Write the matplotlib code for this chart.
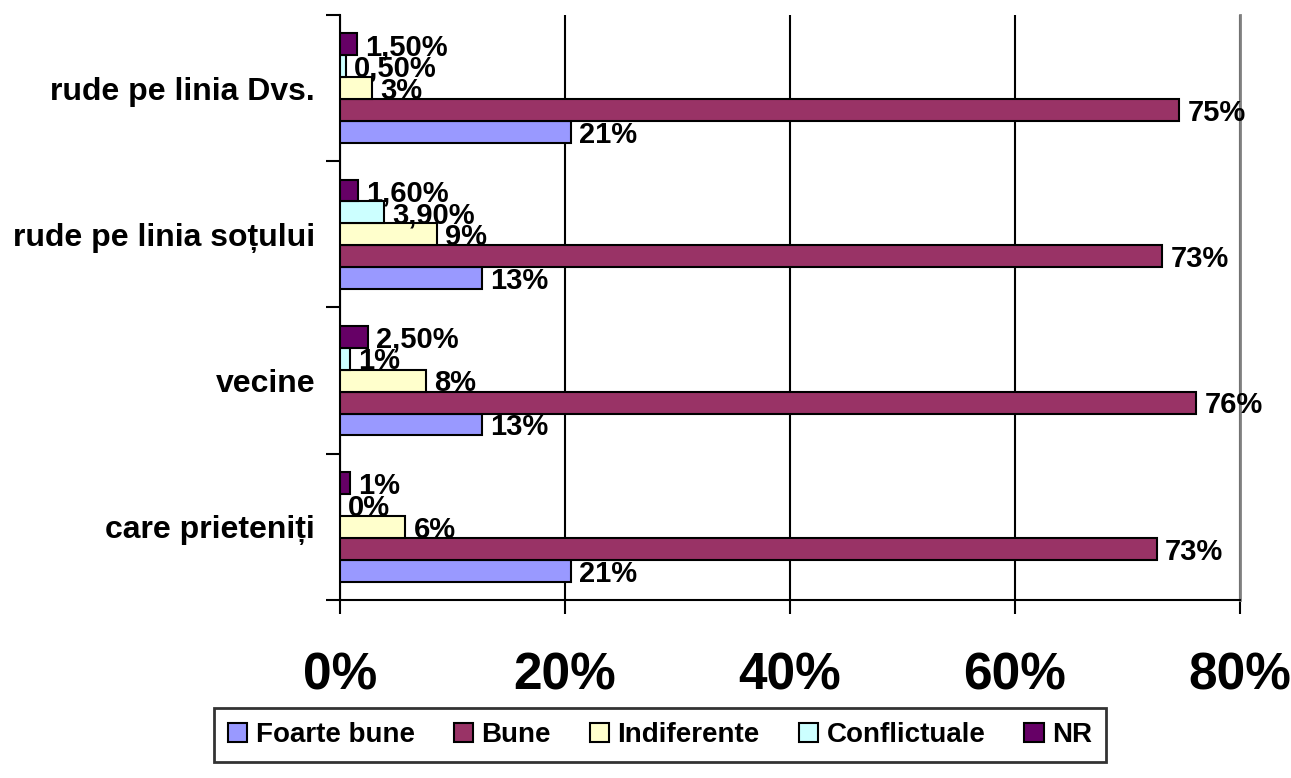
import matplotlib
matplotlib.use("Agg")
import matplotlib.pyplot as plt
import numpy as np

plt.rcParams["font.family"] = ["Liberation Sans", "DejaVu Sans"]
plt.rcParams["font.weight"] = "bold"

categories = ["care prieteniți", "vecine", "rude pe linia soțului", "rude pe linia Dvs."]
series = ["Foarte bune", "Bune", "Indiferente", "Conflictuale", "NR"]
colors = ["#9999FF", "#993366", "#FFFFCC", "#CCFFFF", "#660066"]

# values per series, in category order (bottom to top)
foarte_bune = [20.5, 12.6, 12.6, 20.5]
bune = [72.6, 76.1, 73.1, 74.6]
indiferente = [5.8, 7.6, 8.6, 2.8]
conflictuale = [0.0, 0.9, 3.9, 0.5]
nr = [0.9, 2.5, 1.6, 1.5]

lbl_foarte_bune = ["21%", "13%", "13%", "21%"]
lbl_bune = ["73%", "76%", "73%", "75%"]
lbl_indiferente = ["6%", "8%", "9%", "3%"]
lbl_conflictuale = ["0%", "1%", "3,90%", "0,50%"]
lbl_nr = ["1%", "2,50%", "1,60%", "1,50%"]

values = [foarte_bune, bune, indiferente, conflictuale, nr]
labels = [lbl_foarte_bune, lbl_bune, lbl_indiferente, lbl_conflictuale, lbl_nr]

fig = plt.figure(figsize=(12.91, 7.78), dpi=100)
ax = fig.add_axes([340 / 1291, 1 - 600 / 778, 900 / 1291, 585 / 778])

y = np.arange(len(categories))
h = 0.15
for j, (name, vals, lbls, c) in enumerate(zip(series, values, labels, colors)):
    pos = y + (j - 2) * h
    ax.barh(pos, vals, height=h, color=c, edgecolor="black", linewidth=1.5, label=name, zorder=3)
    for p, v, t in zip(pos, vals, lbls):
        ax.annotate(t, (v, p), xytext=(6, -2), textcoords="offset points",
                    ha="left", va="center", fontsize=21, fontweight="bold", zorder=4)

ax.set_xlim(0, 80)
ax.set_ylim(-0.5, 3.5)
ax.set_xticks([0, 20, 40, 60, 80])
ax.set_xticklabels(["0%", "20%", "40%", "60%", "80%"], fontsize=37, fontweight="bold")
ax.tick_params(axis="x", length=10, width=1.5, pad=27)
ax.set_yticks(y)
ax.set_yticklabels(categories, fontsize=23, fontweight="bold")
ax.tick_params(axis="y", which="major", length=0, pad=18)
ax.set_yticks(np.arange(-0.5, 4.0, 1.0), minor=True)
ax.tick_params(axis="y", which="minor", length=10, width=1.5)

ax.grid(axis="x", color="black", linewidth=1.5, zorder=0)
ax.spines["top"].set_visible(False)
ax.spines["right"].set_color("#808080")
ax.spines["right"].set_linewidth(2)
ax.spines["left"].set_linewidth(1.5)
ax.spines["bottom"].set_linewidth(1.5)

handles, names = ax.get_legend_handles_labels()
leg = fig.legend(handles, names, loc="center", bbox_to_anchor=(660 / 1291, 1 - 735 / 778),
                 ncol=5, frameon=True, fancybox=False, edgecolor="black",
                 prop={"size": 20, "weight": "bold"}, handlelength=0.7, handleheight=0.7,
                 handletextpad=0.3, columnspacing=1.4, borderpad=0.5, borderaxespad=0)
leg.get_frame().set_linewidth(2)

fig.savefig("out.png", dpi=100)
